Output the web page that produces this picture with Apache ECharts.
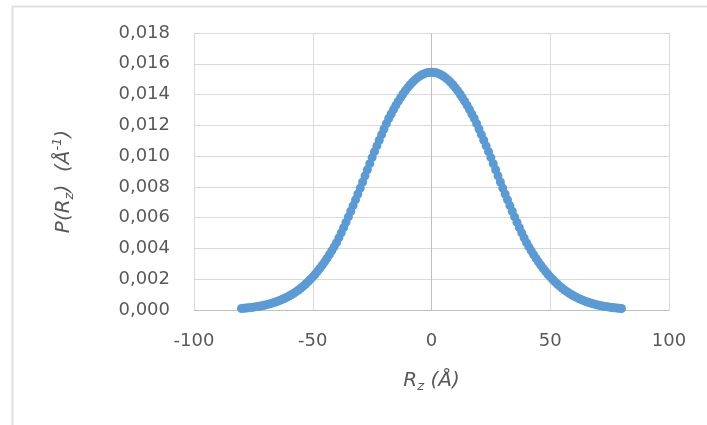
<!DOCTYPE html>
<html>
<head>
<meta charset="utf-8">
<script src="https://cdn.jsdelivr.net/npm/echarts@6/dist/echarts.min.js"></script>
<style>html,body{margin:0;padding:0;background:#fff;}#chart{width:707px;height:425px;}</style>
</head>
<body>
<div id="chart"></div>
<script>
// Rz (Å) sample positions
const rz = [
-80,-79,-78,-77,-76,-75,-74,-73,-72,-71,-70,-69,-68,-67,-66,-65,-64,-63,-62,-61,
-60,-59,-58,-57,-56,-55,-54,-53,-52,-51,-50,-49,-48,-47,-46,-45,-44,-43,-42,-41,
-40,-39,-38,-37,-36,-35,-34,-33,-32,-31,-30,-29,-28,-27,-26,-25,-24,-23,-22,-21,
-20,-19,-18,-17,-16,-15,-14,-13,-12,-11,-10,-9,-8,-7,-6,-5,-4,-3,-2,-1,
0,1,2,3,4,5,6,7,8,9,10,11,12,13,14,15,16,17,18,19,
20,21,22,23,24,25,26,27,28,29,30,31,32,33,34,35,36,37,38,39,
40,41,42,43,44,45,46,47,48,49,50,51,52,53,54,55,56,57,58,59,
60,61,62,63,64,65,66,67,68,69,70,71,72,73,74,75,76,77,78,79,80
];
// P(Rz) (Å^-1)
const pRz = [
0.000099,0.000113,0.000127,0.000144,0.000162,0.000183,0.000206,0.000231,0.000259,0.000290,
0.000324,0.000362,0.000403,0.000448,0.000498,0.000552,0.000611,0.000675,0.000745,0.000821,
0.000903,0.000992,0.001088,0.001192,0.001303,0.001422,0.001549,0.001686,0.001831,0.001986,
0.002151,0.002326,0.002511,0.002706,0.002912,0.003129,0.003356,0.003594,0.003844,0.004104,
0.004374,0.004689,0.005015,0.005351,0.005697,0.006051,0.006414,0.006783,0.007159,0.007539,
0.007923,0.008320,0.008718,0.009116,0.009511,0.009902,0.010289,0.010661,0.011027,0.011400,
0.011761,0.012110,0.012445,0.012739,0.013023,0.013295,0.013555,0.013802,0.014034,0.014251,
0.014452,0.014637,0.014804,0.014953,0.015083,0.015194,0.015286,0.015357,0.015409,0.015440,
0.015450,
0.015440,0.015409,0.015357,0.015286,0.015194,0.015083,0.014953,0.014804,0.014637,0.014452,
0.014251,0.014034,0.013802,0.013555,0.013295,0.013023,0.012739,0.012445,0.012110,0.011761,
0.011400,0.011027,0.010661,0.010289,0.009902,0.009511,0.009116,0.008718,0.008320,0.007923,
0.007539,0.007159,0.006783,0.006414,0.006051,0.005697,0.005351,0.005015,0.004689,0.004374,
0.004104,0.003844,0.003594,0.003356,0.003129,0.002912,0.002706,0.002511,0.002326,0.002151,
0.001986,0.001831,0.001686,0.001549,0.001422,0.001303,0.001192,0.001088,0.000992,0.000903,
0.000821,0.000745,0.000675,0.000611,0.000552,0.000498,0.000448,0.000403,0.000362,0.000324,
0.000290,0.000259,0.000231,0.000206,0.000183,0.000162,0.000144,0.000127,0.000113,0.000099
];
const xTicks = [-100, -50, 0, 50, 100];
const yTicks = [0, 0.002, 0.004, 0.006, 0.008, 0.010, 0.012, 0.014, 0.016, 0.018];

const FONT = 'DejaVu Sans';
const TXT = '#595959';
const chart = echarts.init(document.getElementById('chart'), null, {renderer: 'canvas'});
chart.setOption({
  animation: false,
  backgroundColor: '#ffffff',
  graphic: [{
    type: 'rect', left: 10, top: 4, silent: true,
    shape: {width: 760, height: 480},
    style: {fill: 'none', stroke: '#e0e0e0', lineWidth: 2}
  }],
  grid: {left: 194, right: 38, top: 33, bottom: 115, containLabel: false},
  xAxis: {
    type: 'value', min: xTicks[0], max: xTicks[xTicks.length - 1], interval: 50,
    axisLine: {show: true, lineStyle: {color: '#bfbfbf', width: 1}},
    axisTick: {show: false},
    axisLabel: {color: TXT, fontFamily: FONT, fontSize: 18, margin: 22},
    splitLine: {show: true, lineStyle: {color: ['#d9d9d9', '#d9d9d9', '#bfbfbf', '#d9d9d9', '#d9d9d9'], width: 1}},
    name: '{i|R}{sub|z}{i| (Å)}',
    nameLocation: 'middle', nameGap: 58,
    nameTextStyle: {
      rich: {
        i: {fontFamily: FONT, fontStyle: 'italic', fontSize: 20, color: TXT},
        sub: {fontFamily: FONT, fontStyle: 'italic', fontSize: 13, color: TXT, padding: [12, 0, 0, 0]}
      }
    }
  },
  yAxis: {
    type: 'value', min: 0, max: yTicks[yTicks.length - 1], interval: 0.002,
    axisLine: {show: false},
    axisTick: {show: false},
    axisLabel: {color: TXT, fontFamily: FONT, fontSize: 18, margin: 24,
      formatter: v => v.toFixed(3).replace('.', ',')},
    splitLine: {show: true, lineStyle: {color: '#d9d9d9', width: 1}},
    name: '{i|P(R}{sub|z}{i|)  (Å}{sup|-1}{i|)}',
    nameLocation: 'middle', nameGap: 118, nameRotate: 90,
    nameTextStyle: {
      padding: [0, 20, 0, 0],
      rich: {
        i: {fontFamily: FONT, fontStyle: 'italic', fontSize: 20, color: TXT},
        sub: {fontFamily: FONT, fontStyle: 'italic', fontSize: 13, color: TXT, padding: [12, 0, 0, 0]},
        sup: {fontFamily: FONT, fontStyle: 'italic', fontSize: 13, color: TXT, padding: [0, 0, 12, 0]}
      }
    }
  },
  series: [{
    type: 'scatter',
    data: rz.map((x, i) => [x, pRz[i]]),
    symbol: 'circle', symbolSize: 9,
    itemStyle: {color: '#5b9bd5', opacity: 1}
  }]
});
</script>
</body>
</html>
